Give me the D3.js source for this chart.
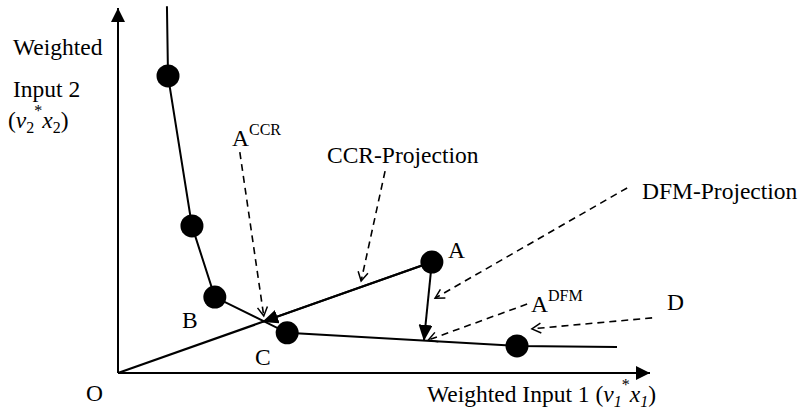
<!DOCTYPE html>
<html>
<head>
<meta charset="utf-8">
<script src="https://cdn.jsdelivr.net/npm/d3@7"></script>
<style>
  html, body { margin: 0; padding: 0; background: #fff; }
  svg { display: block; }
  text { font-family: "Liberation Serif", "Times New Roman", serif; fill: #000; }
</style>
</head>
<body>
<svg id="chart" width="805" height="411"></svg>
<script>
// ---------- DATA (weighted input units, axis 0..100) ----------
const frontierX = [9.2, 9.4, 13.9, 18.2, 31.8, 75.0, 93.8];
const frontierY = [100.5, 81.4, 40.3, 20.8, 11.0, 7.4, 7.1];

const dmuNames = ["P1", "P2", "B", "C", "D", "A"];
const dmuX = [9.4, 13.9, 18.2, 31.8, 75.0, 59.0];
const dmuY = [81.4, 40.3, 20.8, 11.0, 7.4, 30.4];

const projNames = ["A_CCR", "A_DFM"];
const projX = [27.1, 57.5];
const projY = [14.0, 8.8];

// dashed pointers: [fromX, fromY, toX, toY]
const pointerNames = ["A_CCR", "CCR-Projection", "DFM-Projection", "A_DFM", "D"];
const pointerFromX = [22.9, 50.2, 95.7, 76.9, 100.4];
const pointerFromY = [60.5, 55.3, 50.7, 18.9, 15.1];
const pointerToX = [27.4, 45.7, 59.6, 58.3, 77.8];
const pointerToY = [15.6, 25.2, 20.5, 9.0, 12.1];

// ---------- LAYOUT ----------
const svg = d3.select("#chart");
const x = d3.scaleLinear().domain([0, 100]).range([118, 650]);
const y = d3.scaleLinear().domain([0, 100]).range([373, 8]);
const FS = 23.5, SFS = 16;

const defs = svg.append("defs");
defs.append("marker").attr("id", "solidHead")
  .attr("markerUnits", "userSpaceOnUse")
  .attr("viewBox", "-16 -7 16 14").attr("refX", 0).attr("refY", 0)
  .attr("markerWidth", 16).attr("markerHeight", 14).attr("orient", "auto")
  .append("path").attr("d", "M0,0L-16,-7L-16,7Z").attr("fill", "#000");
defs.append("marker").attr("id", "openHead")
  .attr("markerUnits", "userSpaceOnUse")
  .attr("viewBox", "-12 -7 14 14").attr("refX", 0).attr("refY", 0)
  .attr("markerWidth", 14).attr("markerHeight", 14).attr("orient", "auto")
  .append("path").attr("d", "M-9,-5L0,0L-9,5").attr("fill", "none")
  .attr("stroke", "#000").attr("stroke-width", 1.5);
defs.append("marker").attr("id", "axisHead")
  .attr("markerUnits", "userSpaceOnUse")
  .attr("viewBox", "-14 -7 14 14").attr("refX", 0).attr("refY", 0)
  .attr("markerWidth", 14).attr("markerHeight", 14).attr("orient", "auto")
  .append("path").attr("d", "M0,0L-14,-7L-14,7Z").attr("fill", "#000");

// axes (no ticks) via d3.axis
const xAxis = svg.append("g").attr("transform", `translate(0,${y(0)})`)
  .call(d3.axisBottom(x).tickValues([]).tickSizeOuter(0));
const yAxis = svg.append("g").attr("transform", `translate(${x(0)},0)`)
  .call(d3.axisLeft(y).tickValues([]).tickSizeOuter(0));
svg.selectAll(".domain").attr("stroke", "#000").attr("stroke-width", 2);
xAxis.select(".domain").attr("marker-end", "url(#axisHead)");
yAxis.select(".domain").attr("d", `M0,${y(0)}V${y(100)}`).attr("marker-end", "url(#axisHead)");
xAxis.select(".domain").attr("d", `M${x(0)},0H${x(100)}`);

// frontier
const line = d3.line().x(i => x(frontierX[i])).y(i => y(frontierY[i]));
svg.append("path").attr("d", line(d3.range(frontierX.length)))
  .attr("fill", "none").attr("stroke", "#000").attr("stroke-width", 2);

// ray from origin through A
const iA = dmuNames.indexOf("A");
svg.append("line")
  .attr("x1", x(0)).attr("y1", y(0)).attr("x2", x(dmuX[iA])).attr("y2", y(dmuY[iA]))
  .attr("stroke", "#000").attr("stroke-width", 2.2);

// projection arrows from A
projNames.forEach((n, i) => {
  svg.append("line")
    .attr("x1", x(dmuX[iA])).attr("y1", y(dmuY[iA]))
    .attr("x2", x(projX[i])).attr("y2", y(projY[i]))
    .attr("stroke", "#000").attr("stroke-width", 2)
    .attr("marker-end", "url(#solidHead)");
});

// dashed pointers
pointerNames.forEach((n, i) => {
  svg.append("line")
    .attr("x1", x(pointerFromX[i])).attr("y1", y(pointerFromY[i]))
    .attr("x2", x(pointerToX[i])).attr("y2", y(pointerToY[i]))
    .attr("stroke", "#000").attr("stroke-width", 1.6)
    .attr("stroke-dasharray", "7,5")
    .attr("marker-end", "url(#openHead)");
});

// DMU points
svg.selectAll("circle.dmu").data(d3.range(dmuNames.length)).enter()
  .append("circle").attr("class", "dmu")
  .attr("cx", i => x(dmuX[i])).attr("cy", i => y(dmuY[i])).attr("r", 11.5)
  .attr("fill", "#000");

// ---------- TEXT ----------
function rich(x0, y0, parts) {
  const t = svg.append("text").attr("x", x0).attr("y", y0).attr("font-size", FS);
  let cur = 0;
  parts.forEach(p => {
    const off = p.off || 0;
    const ts = t.append("tspan").text(p.t)
      .attr("dy", off - cur)
      .attr("font-size", p.s || FS);
    if (p.i) ts.attr("font-style", "italic");
    cur = off;
  });
  return t;
}

rich(448, 258, [{t: "A"}]);
rich(182, 328, [{t: "B"}]);
rich(255, 365, [{t: "C"}]);
rich(667, 310, [{t: "D"}]);
rich(86, 401, [{t: "O"}]);
rich(232, 146, [{t: "A"}, {t: "CCR", s: SFS, off: -11}]);
rich(531, 312, [{t: "A"}, {t: "DFM", s: SFS, off: -11}]);
rich(327, 163, [{t: "CCR-Projection"}]);
rich(642, 199, [{t: "DFM-Projection"}]);

rich(427, 402, [
  {t: "Weighted Input 1 ("},
  {t: "v", i: true},
  {t: "1", i: true, s: SFS, off: 5},
  {t: "*", s: SFS, off: -12},
  {t: "x", i: true},
  {t: "1", i: true, s: SFS, off: 5},
  {t: ")"}
]);

rich(13, 55, [{t: "Weighted"}]);
rich(13, 97, [{t: "Input 2"}]);
rich(8, 128, [
  {t: "("},
  {t: "v", i: true},
  {t: "2", s: SFS, off: 5},
  {t: "*", s: SFS, off: -12},
  {t: "x", i: true},
  {t: "2", s: SFS, off: 5},
  {t: ")"}
]);
</script>
</body>
</html>
